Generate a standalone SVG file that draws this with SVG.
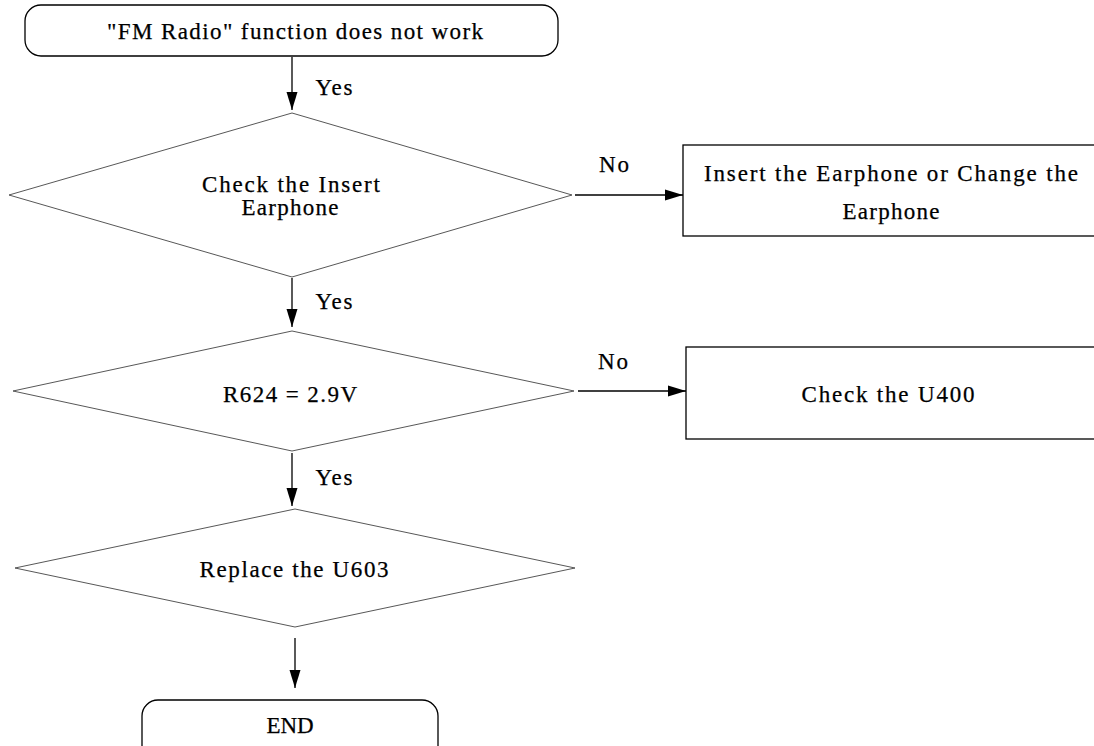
<svg xmlns="http://www.w3.org/2000/svg" width="1094" height="746" viewBox="0 0 1094 746">
<defs>
<marker id="ah" markerWidth="18" markerHeight="12" refX="18" refY="6" orient="auto" markerUnits="userSpaceOnUse">
<path d="M0,0.5 L18,6 L0,11.5 Z" fill="#000"/>
</marker>
<style>
.t{font-family:"Liberation Serif","DejaVu Serif",serif;font-size:23px;fill:#000;stroke:#000;stroke-width:0.25;text-anchor:middle}
.term{fill:#fff;stroke:#000;stroke-width:1.3}
.dia{fill:#fff;stroke:#444;stroke-width:0.9}
.box{fill:#fff;stroke:#000;stroke-width:1.3}
.c{stroke:#000;stroke-width:1.3;fill:none;marker-end:url(#ah)}
</style>
</defs>
<rect width="1094" height="746" fill="#fff"/>
<g id="start">
<rect class="term" x="25" y="5" width="533" height="51" rx="16"/>
<text class="t" x="295" y="39" textLength="376" lengthAdjust="spacing">"FM Radio" function does not work</text>
</g>
<g id="check-insert">
<polygon class="dia" points="292,113 572,195 292,277 9,195"/>
<text class="t" x="291" y="192" textLength="178" lengthAdjust="spacing">Check the Insert</text>
<text class="t" x="290" y="215" textLength="97" lengthAdjust="spacing">Earphone</text>
</g>
<g id="insert-earphone">
<rect class="box" x="683" y="145" width="420" height="91"/>
<text class="t" x="891" y="181" textLength="374" lengthAdjust="spacing">Insert the Earphone or Change the</text>
<text class="t" x="891" y="219" textLength="97" lengthAdjust="spacing">Earphone</text>
</g>
<g id="r624">
<polygon class="dia" points="292,331 574,391 292,451 13,391"/>
<text class="t" x="290" y="402" textLength="134" lengthAdjust="spacing">R624 = 2.9V</text>
</g>
<g id="check-u400">
<rect class="box" x="686" y="347" width="420" height="92"/>
<text class="t" x="888" y="402" textLength="173" lengthAdjust="spacing">Check the U400</text>
</g>
<g id="replace-u603">
<polygon class="dia" points="295,509 575,568 295,627 15,568"/>
<text class="t" x="294" y="577" textLength="189" lengthAdjust="spacing">Replace the U603</text>
</g>
<g id="end">
<rect class="term" x="142" y="700" width="296" height="62" rx="16"/>
<text class="t" x="290" y="733" textLength="47" lengthAdjust="spacing">END</text>
</g>
<g id="connectors">
<line class="c" x1="292" y1="57" x2="292" y2="110"/>
<line class="c" x1="575" y1="195" x2="683" y2="195"/>
<line class="c" x1="292" y1="278" x2="292" y2="327"/>
<line class="c" x1="578" y1="391" x2="686" y2="391"/>
<line class="c" x1="292" y1="453" x2="292" y2="506"/>
<line class="c" x1="295" y1="638" x2="295" y2="688"/>
<text class="t" x="334" y="95" textLength="37" lengthAdjust="spacing">Yes</text>
<text class="t" x="614" y="172" textLength="30" lengthAdjust="spacing">No</text>
<text class="t" x="334" y="309" textLength="37" lengthAdjust="spacing">Yes</text>
<text class="t" x="613" y="369" textLength="30" lengthAdjust="spacing">No</text>
<text class="t" x="334" y="485" textLength="37" lengthAdjust="spacing">Yes</text>
</g>
</svg>
